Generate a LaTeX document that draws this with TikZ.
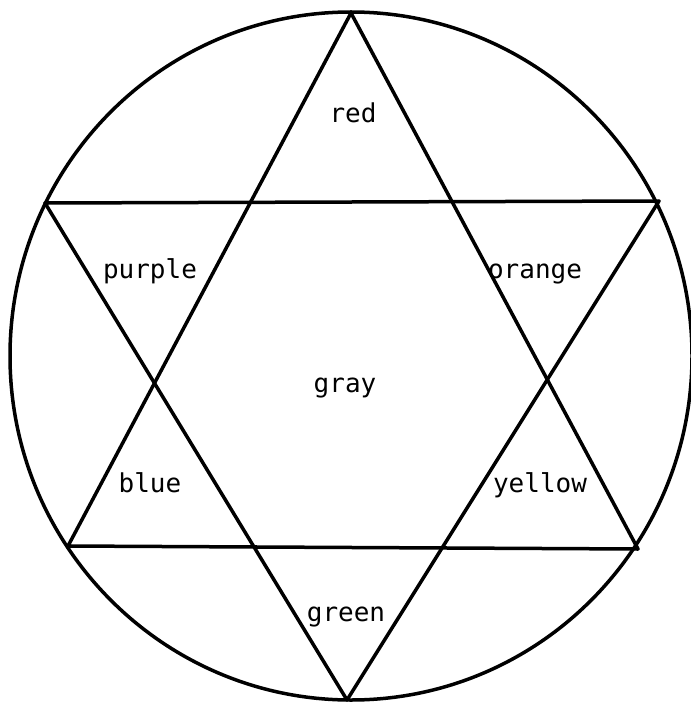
\documentclass[tikz,border=0pt]{standalone}
\usepackage{fontspec}
\newfontfamily\labelfont{DejaVu Sans Mono}
\begin{document}
\begin{tikzpicture}[x=1pt,y=-1pt,
  edge/.style={line width=3.5pt,line join=round,line cap=round},
  lab/.style={font=\labelfont\fontsize{26}{29}\selectfont,anchor=base,inner sep=0pt}]
\useasboundingbox (0,0) rectangle (690,703);
\node[draw=none,inner sep=0pt,minimum size=0pt] (c) at (351,356) {};
\draw[edge] (c) ellipse [x radius=341pt, y radius=344pt];
\coordinate (T) at (351,13);
\coordinate (UL) at (45,203);
\coordinate (UR) at (659,201);
\coordinate (LL) at (68,546);
\coordinate (LR) at (638,549);
\coordinate (B) at (347,700);
\draw[edge] (T) -- (LL) -- (LR) -- cycle;
\draw[edge] (UL) -- (UR) -- (B) -- cycle;
\node[lab] (red) at (353,123) {red};
\node[lab] (purple) at (150,278) {purple};
\node[lab] (orange) at (535,278) {orange};
\node[lab] (gray) at (345,392) {gray};
\node[lab] (blue) at (150,492) {blue};
\node[lab] (yellow) at (540,492) {yellow};
\node[lab] (green) at (346,621) {green};
\end{tikzpicture}
\end{document}
